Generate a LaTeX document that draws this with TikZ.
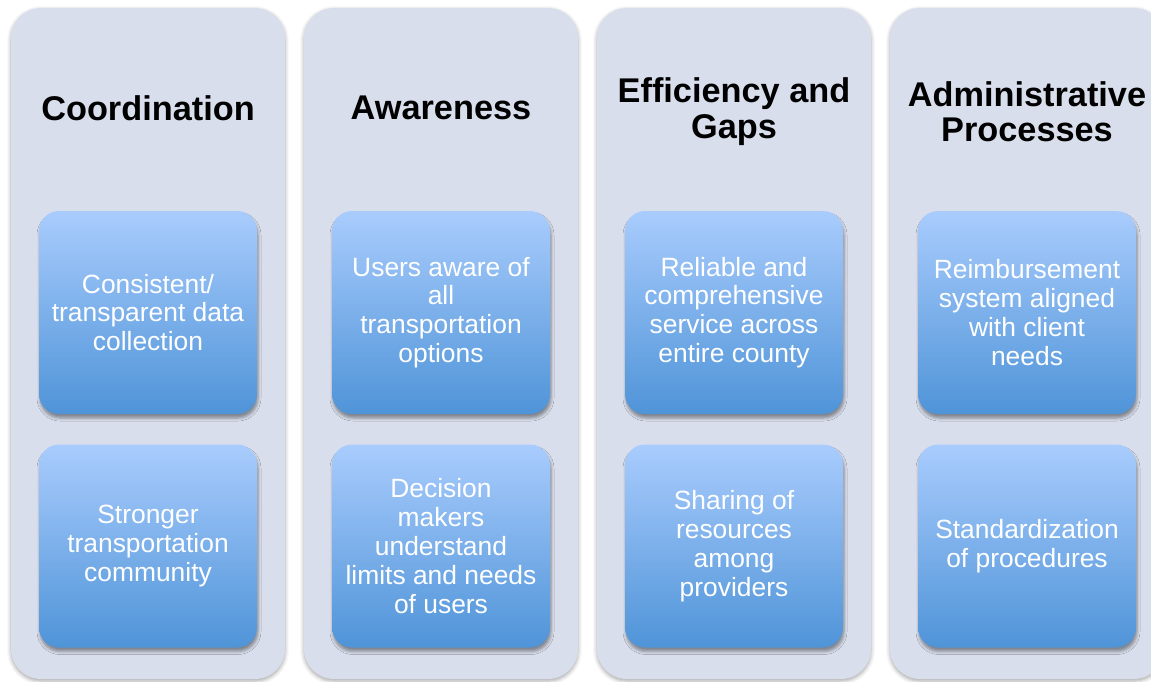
\documentclass[tikz,border=0pt]{standalone}
\usepackage{fontspec}
\setmainfont{Liberation Sans}
\usetikzlibrary{shadows.blur}

\definecolor{panelfill}{HTML}{D9DEEC}
\definecolor{cardtop}{HTML}{A9CCFD}
\definecolor{cardbottom}{HTML}{4F94D8}

\tikzset{
  panel/.style={draw=none, fill=panelfill, rounded corners=30pt,
    minimum width=274pt, minimum height=671pt, inner sep=0pt,
    blur shadow={shadow xshift=0pt, shadow yshift=-2pt,
      shadow blur radius=4pt, shadow opacity=35}},
  card/.style={draw=none, rounded corners=20pt,
    minimum width=218pt, minimum height=203pt, inner sep=0pt,
    top color=cardtop, bottom color=cardbottom,
    text=white, align=center, font=\fontsize{26.4}{28.8}\selectfont,
    blur shadow={shadow xshift=1pt, shadow yshift=-4pt,
      shadow blur radius=3pt, shadow opacity=40}},
  heading/.style={align=center, inner sep=0pt, text=black,
    font=\bfseries\fontsize{34.3}{35.5}\selectfont}
}

\begin{document}
\begin{tikzpicture}[x=1pt,y=-1pt]
  \useasboundingbox (0,0) rectangle (1151,681);
  \clip (0,0) rectangle (1151,681);

  % column panels
  \node[panel] (p1) at (148,343.5) {};
  \node[panel] (p2) at (441,343.5) {};
  \node[panel] (p3) at (734,343.5) {};
  \node[panel] (p4) at (1027,343.5) {};

  % column headings
  \node[heading] (h1) at (148,108) {Coordination};
  \node[heading] (h2) at (441,108) {Awareness};
  \node[heading] (h3) at (734,111.5) {Efficiency and\\Gaps};
  \node[heading] (h4) at (1027,111.5) {Administrative\\Processes};

  % cards, upper row
  \node[card] (c11) at (148,312.5) {Consistent/\\transparent data\\collection};
  \node[card] (c21) at (441,312.5) {Users aware of\\all\\transportation\\options};
  \node[card] (c31) at (734,312.5) {Reliable and\\comprehensive\\service across\\entire county};
  \node[card] (c41) at (1027,312.5) {Reimbursement\\system aligned\\with client\\needs};

  % cards, lower row
  \node[card] (c12) at (148,546) {Stronger\\transportation\\community};
  \node[card] (c22) at (441,546) {Decision\\makers\\understand\\limits and needs\\of users};
  \node[card] (c32) at (734,546) {Sharing of\\resources\\among\\providers};
  \node[card] (c42) at (1027,546) {Standardization\\of procedures};
\end{tikzpicture}
\end{document}
